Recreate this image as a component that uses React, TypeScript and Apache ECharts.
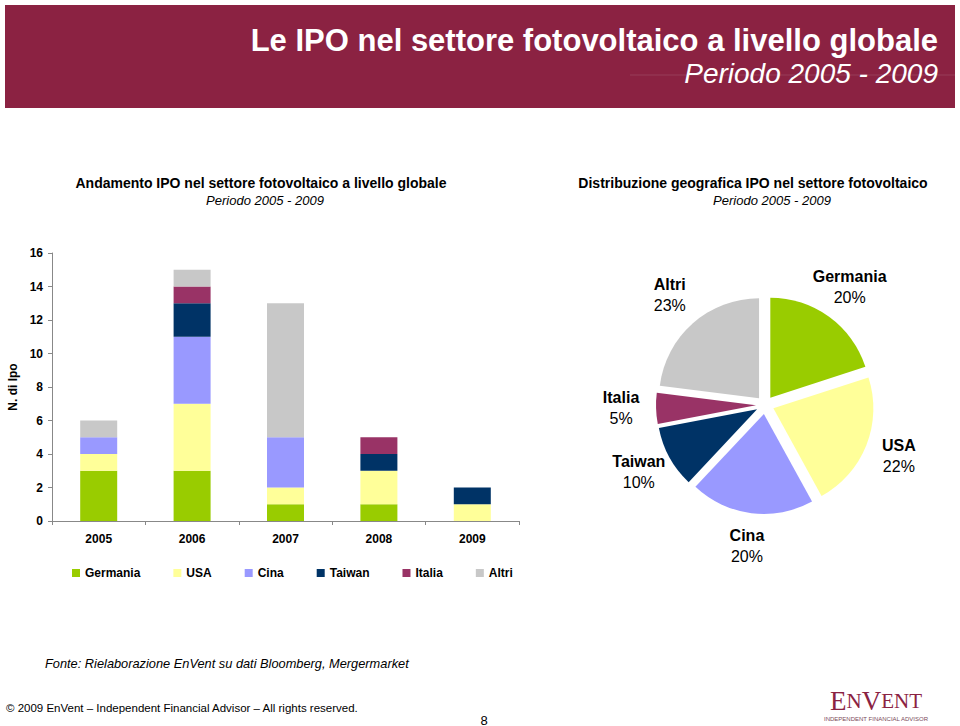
import React, { useEffect, useRef } from "react";
import * as echarts from "echarts";

const years = ["2005", "2006", "2007", "2008", "2009"];
const seriesNames = ["Germania", "USA", "Cina", "Taiwan", "Italia", "Altri"];
const germania = [3, 3, 1, 1, 0];
const usa = [1, 4, 1, 2, 1];
const cina = [1, 4, 3, 0, 0];
const taiwan = [0, 2, 0, 1, 1];
const italia = [0, 1, 0, 1, 0];
const altri = [1, 1, 8, 0, 0];
const pieShares = [20, 22, 20, 10, 5, 23];
const yTicks = [0, 16, 2];
const colors = ["#99CC00", "#FFFF99", "#9999FF", "#003366", "#993366", "#C8C8C8"];

const FONT = "'Liberation Sans', Arial, Helvetica, sans-serif";
const SERIF = "'Liberation Serif', 'DejaVu Serif', serif";
const MAROON = "#8B2242";

export default function App() {
  const ref = useRef<HTMLDivElement>(null);
  useEffect(() => {
    if (!ref.current) return;
    const chart = echarts.init(ref.current, undefined, { renderer: "svg" });
    const barData = [germania, usa, cina, taiwan, italia, altri];
    const option: any = {
      animation: false,
      textStyle: { fontFamily: FONT },
      grid: { left: 52, right: 441, top: 253, bottom: 205, containLabel: false },
      legend: {
        data: seriesNames,
        left: 72,
        top: 567,
        padding: 0,
        icon: "rect",
        itemWidth: 8,
        itemHeight: 8,
        itemGap: 33,
        textStyle: { fontFamily: FONT, fontWeight: "bold", fontSize: 12, color: "#000" },
        selectedMode: false,
      },
      xAxis: {
        type: "category",
        data: years,
        axisLine: { lineStyle: { color: "#888", width: 1 } },
        axisTick: { show: true, length: 4, lineStyle: { color: "#888" } },
        axisLabel: { fontFamily: FONT, fontWeight: "bold", fontSize: 12, color: "#000", margin: 12 },
      },
      yAxis: {
        type: "value",
        min: yTicks[0],
        max: yTicks[1],
        interval: yTicks[2],
        name: "N. di Ipo",
        nameLocation: "middle",
        nameRotate: 90,
        nameGap: 33,
        nameTextStyle: { fontFamily: FONT, fontWeight: "bold", fontSize: 12, color: "#000" },
        axisLine: { show: true, lineStyle: { color: "#888", width: 1 } },
        axisTick: { show: true, length: 4, lineStyle: { color: "#888" } },
        axisLabel: { fontFamily: FONT, fontWeight: "bold", fontSize: 12, color: "#000", margin: 9 },
        splitLine: { show: false },
      },
      series: [
        ...seriesNames.map((name, i) => ({
          name,
          type: "bar",
          stack: "ipo",
          barWidth: 37,
          data: barData[i],
          itemStyle: { color: colors[i] },
          emphasis: { disabled: true },
        })),
        {
          name: "Distribuzione",
          type: "pie",
          center: [765, 405],
          radius: [0, 100],
          startAngle: 90,
          clockwise: true,
          selectedMode: "multiple",
          selectedOffset: 9,
          avoidLabelOverlap: false,
          label: { show: false },
          labelLine: { show: false },
          emphasis: { disabled: true },
          select: { itemStyle: { borderWidth: 0 } },
          data: seriesNames.map((name, i) => ({
            name,
            value: pieShares[i],
            selected: true,
            itemStyle: { color: colors[i] },
            select: { itemStyle: { color: colors[i] } },
          })),
        },
        {
          name: "Etichette",
          type: "pie",
          center: [765, 403],
          radius: [0, 282],
          startAngle: 90,
          clockwise: true,
          silent: true,
          avoidLabelOverlap: false,
          z: 5,
          itemStyle: { color: "rgba(0,0,0,0)" },
          labelLine: { show: false },
          emphasis: { disabled: true },
          label: {
            show: true,
            position: "inside",
            formatter: (p: any) => `{n|${p.name}}\n{p|${Math.round(p.percent)}%}`,
            rich: {
              n: { fontFamily: FONT, fontWeight: "bold", fontSize: 16, lineHeight: 21, color: "#000", align: "center" },
              p: { fontFamily: FONT, fontSize: 16, lineHeight: 21, color: "#000", align: "center" },
            },
          },
          data: seriesNames.map((name, i) => ({ name, value: pieShares[i] })),
        },
      ],
      graphic: [
        { type: "rect", shape: { x: 5, y: 5, width: 950, height: 103 }, style: { fill: MAROON } },
        { type: "line", shape: { x1: 630, y1: 75, x2: 955, y2: 75 }, style: { stroke: "rgba(255,255,255,0.12)", lineWidth: 1 } },
        {
          type: "text",
          style: {
            text: "Le IPO nel settore fotovoltaico a livello globale",
            x: 938, y: 40, align: "right", verticalAlign: "middle", textAlign: "right", textVerticalAlign: "middle",
            font: `bold 31px ${FONT}`, fill: "#fff",
          },
        },
        {
          type: "text",
          style: {
            text: "Periodo 2005 - 2009",
            x: 938, y: 73, align: "right", verticalAlign: "middle", textAlign: "right", textVerticalAlign: "middle",
            font: `italic 28px ${FONT}`, fill: "#fff",
          },
        },
        {
          type: "text",
          style: {
            text: "Andamento IPO nel settore fotovoltaico a livello globale",
            x: 261, y: 183, align: "center", verticalAlign: "middle", textAlign: "center", textVerticalAlign: "middle",
            font: `bold 14px ${FONT}`, fill: "#000",
          },
        },
        {
          type: "text",
          style: {
            text: "Periodo 2005 - 2009",
            x: 265, y: 200, align: "center", verticalAlign: "middle", textAlign: "center", textVerticalAlign: "middle",
            font: `italic 13px ${FONT}`, fill: "#000",
          },
        },
        {
          type: "text",
          style: {
            text: "Distribuzione geografica IPO nel settore fotovoltaico",
            x: 753, y: 183, align: "center", verticalAlign: "middle", textAlign: "center", textVerticalAlign: "middle",
            font: `bold 14px ${FONT}`, fill: "#000",
          },
        },
        {
          type: "text",
          style: {
            text: "Periodo 2005 - 2009",
            x: 772, y: 200, align: "center", verticalAlign: "middle", textAlign: "center", textVerticalAlign: "middle",
            font: `italic 13px ${FONT}`, fill: "#000",
          },
        },
        {
          type: "text",
          style: {
            text: "Fonte: Rielaborazione EnVent su dati Bloomberg, Mergermarket",
            x: 45, y: 663, align: "left", verticalAlign: "middle", textAlign: "left", textVerticalAlign: "middle",
            font: `italic 12.8px ${FONT}`, fill: "#000",
          },
        },
        {
          type: "text",
          style: {
            text: "© 2009 EnVent – Independent Financial Advisor – All rights reserved.",
            x: 6, y: 708, align: "left", verticalAlign: "middle", textAlign: "left", textVerticalAlign: "middle",
            font: `11.5px ${FONT}`, fill: "#000",
          },
        },
        {
          type: "text",
          style: {
            text: "8",
            x: 484, y: 720, align: "center", verticalAlign: "middle", textAlign: "center", textVerticalAlign: "middle",
            font: `13px ${FONT}`, fill: "#000",
          },
        },
        {
          type: "text",
          style: {
            text: "{a|E}{b|N}{a|V}{b|ENT}",
            x: 876, y: 714, align: "center", verticalAlign: "bottom", textAlign: "center", textVerticalAlign: "bottom",
            rich: {
              a: { fontFamily: SERIF, fontSize: 27, fill: MAROON, color: MAROON },
              b: { fontFamily: SERIF, fontSize: 21, fill: MAROON, color: MAROON },
            },
          },
        },
        {
          type: "text",
          style: {
            text: "INDEPENDENT FINANCIAL ADVISOR",
            x: 876, y: 719, align: "center", verticalAlign: "middle", textAlign: "center", textVerticalAlign: "middle",
            font: `6px ${FONT}`, fill: "#7a4a5a",
          },
        },
      ],
    };
    chart.setOption(option);
    return () => chart.dispose();
  }, []);
  return (
    <div
      ref={ref}
      style={{ position: "fixed", left: 0, top: 0, width: 960, height: 726, background: "#fff" }}
    />
  );
}
